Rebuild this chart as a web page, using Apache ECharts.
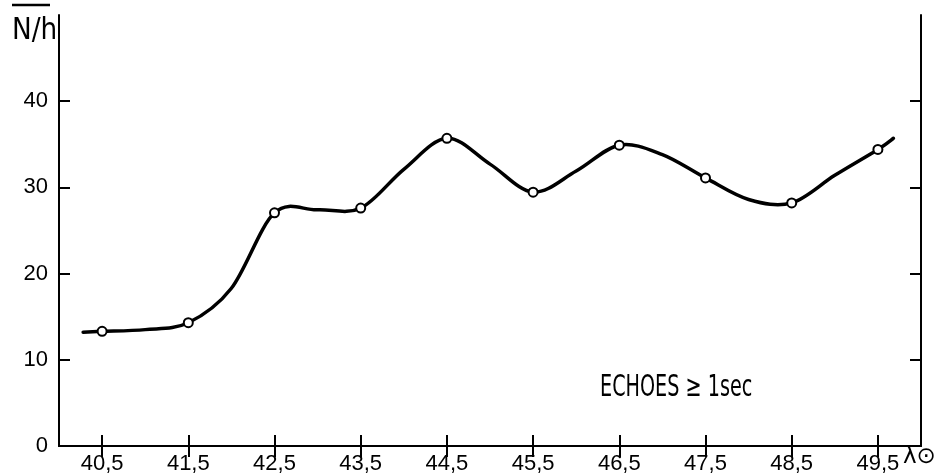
<!DOCTYPE html>
<html>
<head>
<meta charset="utf-8">
<script src="https://cdn.jsdelivr.net/npm/echarts@6/dist/echarts.min.js"></script>
<style>
  html, body { margin: 0; padding: 0; background: #fff; }
  #main { width: 935px; height: 475px; }
</style>
</head>
<body>
<div id="main"></div>
<script>
// measured points (solar longitude, echoes per hour)
var solarLong = [40.5, 41.5, 42.5, 43.5, 44.5, 45.5, 46.5, 47.5, 48.5, 49.5];
var rate = [13.3, 14.3, 27.05, 27.6, 35.7, 29.45, 34.9, 31.1, 28.2, 34.4];
// the hand-drawn curve at half-degree steps plus its two ends
var curveLong = [40.28, 40.5, 41.0, 41.5, 42.0, 42.5, 43.0, 43.5, 44.0, 44.5, 45.0, 45.5,
                 46.0, 46.5, 47.0, 47.5, 48.0, 48.5, 49.0, 49.5, 49.68];
var curveRate = [13.2, 13.3, 13.5, 14.3, 18.3, 27.05, 27.4, 27.6, 32.1, 35.7, 32.7, 29.45,
                 31.9, 34.9, 33.8, 31.1, 28.6, 28.2, 31.4, 34.4, 35.7];
var xTicks = [40.5, 41.5, 42.5, 43.5, 44.5, 45.5, 46.5, 47.5, 48.5, 49.5];
var yTicks = [0, 10, 20, 30, 40];

var labelFont = 'Liberation Sans';
var points = solarLong.map(function (x, i) { return [x, rate[i]]; });
var curve = curveLong.map(function (x, i) { return [x, curveRate[i]]; });

// french-curve look: one path through the read points, bezier joins in pixel space
function renderCurve(params, api) {
  if (params.dataIndex !== 0) return null;
  var p = curve.map(function (d) { return api.coord(d); });
  var n = p.length;
  var d = 'M' + p[0][0] + ',' + p[0][1];
  for (var i = 0; i < n - 1; i++) {
    var p0 = p[Math.max(i - 1, 0)], p1 = p[i], p2 = p[i + 1], p3 = p[Math.min(i + 2, n - 1)];
    var c1x = p1[0] + (p2[0] - p0[0]) / 6, c1y = p1[1] + (p2[1] - p0[1]) / 6;
    var c2x = p2[0] - (p3[0] - p1[0]) / 6, c2y = p2[1] - (p3[1] - p1[1]) / 6;
    d += 'C' + c1x + ',' + c1y + ',' + c2x + ',' + c2y + ',' + p2[0] + ',' + p2[1];
  }
  return {
    type: 'path',
    shape: { pathData: d },
    style: { stroke: '#000', lineWidth: 3.5, fill: null, lineCap: 'round', lineJoin: 'round' }
  };
}

var chart = echarts.init(document.getElementById('main'));
var axisLine = { show: true, lineStyle: { color: '#000', width: 2 } };
var tick = { show: true, inside: true, length: 11, lineStyle: { color: '#000', width: 2 } };

var option = {
  backgroundColor: '#fff',
  animation: false,
  grid: { left: 59, right: 14, top: 15, bottom: 29 },
  xAxis: [
    {
      type: 'value', min: 40, max: 50, position: 'bottom',
      axisLine: axisLine,
      axisTick: Object.assign({ customValues: xTicks }, tick),
      axisLabel: {
        customValues: xTicks, color: '#000', fontFamily: labelFont, fontSize: 22, margin: 7,
        formatter: function (v) { return v.toFixed(1).replace('.', ','); }
      },
      splitLine: { show: false }
    },
    {
      type: 'value', min: 40, max: 50, position: 'top',
      axisLine: axisLine,
      axisTick: Object.assign({ customValues: xTicks }, tick),
      axisLabel: { show: false },
      splitLine: { show: false }
    }
  ],
  yAxis: [
    {
      type: 'value', min: 0, max: 50, position: 'left',
      axisLine: axisLine,
      axisTick: Object.assign({ customValues: yTicks }, tick),
      axisLabel: { customValues: yTicks, color: '#000', fontFamily: labelFont, fontSize: 22, margin: 11 },
      splitLine: { show: false }
    },
    {
      type: 'value', min: 0, max: 50, position: 'right',
      axisLine: axisLine,
      axisTick: Object.assign({ customValues: yTicks }, tick),
      axisLabel: { show: false },
      splitLine: { show: false }
    }
  ],
  series: [
    {
      type: 'custom', data: curve, renderItem: renderCurve, silent: true, z: 2
    },
    {
      type: 'scatter', data: points, symbol: 'circle', symbolSize: 9,
      itemStyle: { color: '#fff', borderColor: '#000', borderWidth: 2, opacity: 1 }, z: 3
    }
  ],
  graphic: [
    { type: 'text', x: 12, y: 31, scaleX: 0.85,
      style: { text: 'N/h', fontFamily: 'DejaVu Sans', fontSize: 31, fill: '#000', verticalAlign: 'middle' } },
    { type: 'line', shape: { x1: 12, y1: 5, x2: 50, y2: 5 }, style: { stroke: '#000', lineWidth: 2.5 } },
    { type: 'text', x: 903, y: 457,
      style: { text: 'λ⊙', fontFamily: 'DejaVu Sans', fontSize: 23, fill: '#000', verticalAlign: 'middle' } },
    { type: 'text', x: 600, y: 388, scaleX: 0.64,
      style: { text: 'ECHOES \u2265 1sec', fontFamily: 'DejaVu Sans', fontSize: 30, fill: '#000', verticalAlign: 'middle' } }
  ]
};
chart.setOption(option);
</script>
</body>
</html>
